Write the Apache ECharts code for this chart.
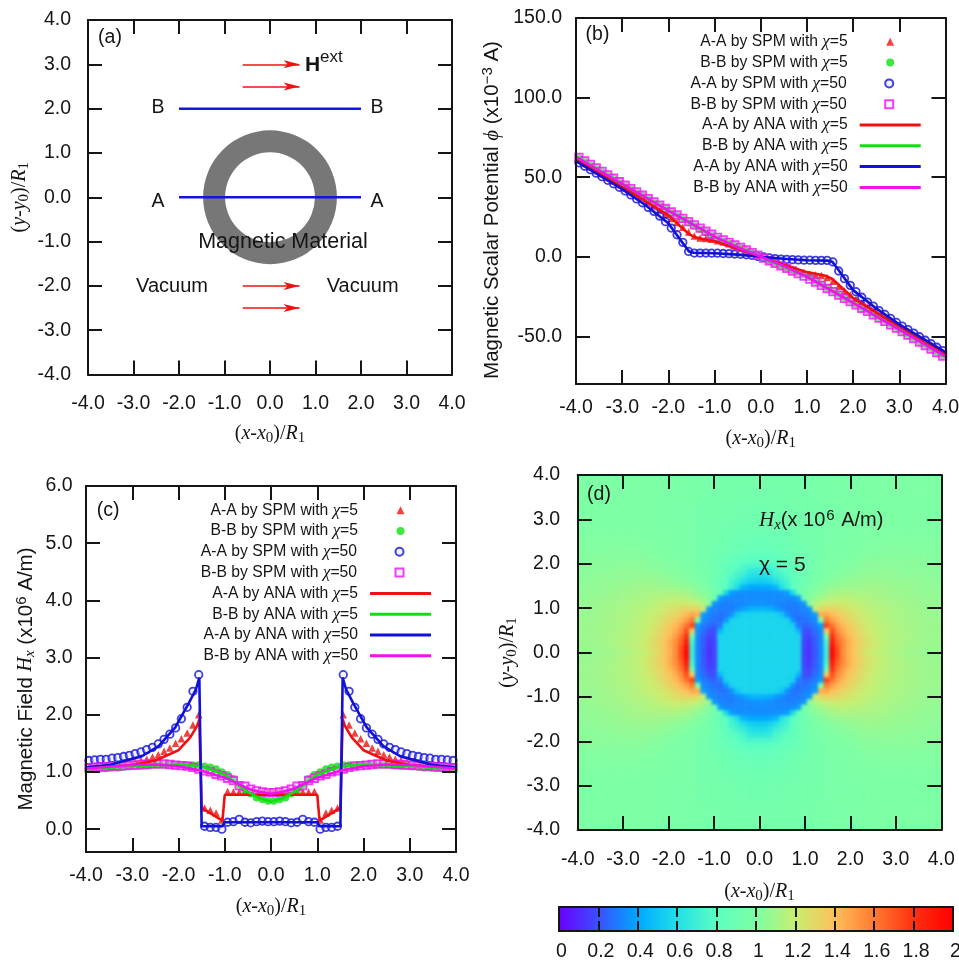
<!DOCTYPE html>
<html><head><meta charset="utf-8">
<style>html,body{margin:0;padding:0;background:#fff}#c{width:959px;height:961px;background:#fff;filter:blur(0.45px)}</style>
<script src="https://cdn.jsdelivr.net/npm/echarts@6/dist/echarts.min.js"></script>
</head><body><div id="c"></div>
<script>
// ---- sampling positions of the SPM markers ----
const spmX=[-3.9375,-3.8125,-3.6875,-3.5625,-3.4375,-3.3125,-3.1875,-3.0625,-2.9375,-2.8125,-2.6875,-2.5625,-2.4375,-2.3125,-2.1875,-2.0625,-1.9375,-1.8125,-1.6875,-1.5625,-1.4375,-1.3125,-1.1875,-1.0625,-0.9375,-0.8125,-0.6875,-0.5625,-0.4375,-0.3125,-0.1875,-0.0625,0.0625,0.1875,0.3125,0.4375,0.5625,0.6875,0.8125,0.9375,1.0625,1.1875,1.3125,1.4375,1.5625,1.6875,1.8125,1.9375,2.0625,2.1875,2.3125,2.4375,2.5625,2.6875,2.8125,2.9375,3.0625,3.1875,3.3125,3.4375,3.5625,3.6875,3.8125,3.9375];
// ---- panel (b): magnetic scalar potential ----
const phiSpmAA5=[60.6,58.4,56.2,54,51.9,49.6,47.4,45.2,43,40.8,38.6,36.1,33.7,31.4,29,26.6,24,21.5,18.5,15.5,13,11.8,11.5,11,10,9.2,8.2,7,5.4,3.9,2.4,0.8,-0.8,-2.4,-3.9,-5.4,-7,-8.2,-9.2,-10,-11,-11.5,-11.8,-13,-15.5,-18.5,-21.5,-24,-26.6,-29,-31.4,-33.7,-36.1,-38.6,-40.8,-43,-45.2,-47.4,-49.6,-51.9,-54,-56.2,-58.4,-60.6];
const phiSpmBB5=[62,59.8,57.6,55.4,53.3,51.1,49,46.8,44.5,42.4,40.4,38.3,36.2,34.1,32,30,27.9,25.8,23.7,21.6,19.5,17.4,15.4,13.3,11.4,9.9,8.5,6.9,5.4,3.9,2.3,0.8,-0.8,-2.3,-3.9,-5.4,-6.9,-8.5,-9.9,-11.4,-13.3,-15.4,-17.4,-19.5,-21.6,-23.7,-25.8,-27.9,-30,-32,-34.1,-36.2,-38.3,-40.4,-42.4,-44.5,-46.8,-49,-51.1,-53.3,-55.4,-57.6,-59.8,-62];
const phiSpmAA50=[59,56.9,54.7,52.5,50.3,48,45.8,43.6,41.3,38.8,36.3,33.9,31,28.5,25.5,22,18,13.8,9,3.3,2.3,2.3,2.3,2.2,2.2,2,1.9,1.7,1.5,1.2,0.8,0.2,-0.2,-0.8,-1.2,-1.5,-1.7,-1.9,-2,-2.2,-2.2,-2.3,-2.3,-2.3,-3.3,-9,-13.8,-18,-22,-25.5,-28.5,-31,-33.9,-36.3,-38.8,-41.3,-43.6,-45.8,-48,-50.3,-52.5,-54.7,-56.9,-59];
const phiSpmBB50=[62.4,60.2,58,55.8,53.6,51.4,49.3,47.1,44.9,42.8,40.7,38.6,36.5,34.4,32.4,30.3,28.2,26.2,24.1,22,20,18,16,14.1,12.2,10.6,9,7.4,5.8,4.2,2.6,0.9,-0.9,-2.6,-4.2,-5.8,-7.4,-9,-10.6,-12.2,-14.1,-16,-18,-20,-22,-24.1,-26.2,-28.2,-30.3,-32.4,-34.4,-36.5,-38.6,-40.7,-42.8,-44.9,-47.1,-49.3,-51.4,-53.6,-55.8,-58,-60.2,-62.4];
const phiAnaAA5X=[-4,-3,-2,-1.55,-1.4,-1,-0.5,0,0.5,1,1.4,1.55,2,3,4];
const phiAnaAA5=[61,44,26,14,12,9.7,5,0,-5,-9.7,-12,-14,-26,-44,-61];
const phiAnaBB5X=[-4,-3,-2,-1,0,1,2,3,4];
const phiAnaBB5=[63,45.6,29,12.3,0,-12.3,-29,-45.6,-63];
const phiAnaAA50X=[-4,-3,-2.5,-2,-1.75,-1.55,-1.45,-1,-0.5,0,0.5,1,1.45,1.55,1.75,2,2.5,3,4];
const phiAnaAA50=[60,42.5,32.5,21,11,3.2,2.5,2.2,1.3,0,-1.3,-2.2,-2.5,-3.2,-11,-21,-32.5,-42.5,-60];
const phiAnaBB50X=[-4,-3,-2,-1,-0.5,0,0.5,1,2,3,4];
const phiAnaBB50=[62.6,45.8,29,12.6,5.8,0,-5.8,-12.6,-29,-45.8,-62.6];
// ---- panel (c): magnetic field Hx ----
const hxSpmAA5=[1.07,1.08,1.09,1.1,1.1,1.12,1.13,1.15,1.17,1.2,1.22,1.26,1.3,1.36,1.42,1.5,1.58,1.68,1.82,2,0.37,0.33,0.28,0.16,0.66,0.65,0.65,0.66,0.65,0.64,0.65,0.65,0.65,0.65,0.64,0.65,0.66,0.65,0.65,0.66,0.16,0.28,0.33,0.37,2,1.82,1.68,1.58,1.5,1.42,1.36,1.3,1.26,1.22,1.2,1.17,1.15,1.13,1.12,1.1,1.1,1.09,1.08,1.07];
const hxSpmBB5=[1.05,1.05,1.06,1.06,1.07,1.07,1.08,1.09,1.1,1.1,1.11,1.12,1.12,1.12,1.12,1.12,1.12,1.12,1.12,1.12,1.1,1.08,1.05,1,0.95,0.88,0.77,0.68,0.62,0.55,0.52,0.49,0.49,0.52,0.55,0.62,0.68,0.77,0.88,0.95,1,1.05,1.08,1.1,1.12,1.12,1.12,1.12,1.12,1.12,1.12,1.12,1.12,1.11,1.1,1.1,1.09,1.08,1.07,1.07,1.06,1.06,1.05,1.05];
const hxSpmAA50=[1.2,1.21,1.22,1.22,1.24,1.25,1.27,1.29,1.32,1.35,1.39,1.43,1.49,1.57,1.66,1.77,1.93,2.13,2.41,2.7,0.05,0.03,0.03,0,0.12,0.13,0.17,0.12,0.11,0.13,0.14,0.13,0.13,0.14,0.13,0.11,0.12,0.17,0.13,0.12,0,0.03,0.03,0.05,2.7,2.41,2.13,1.93,1.77,1.66,1.57,1.49,1.43,1.39,1.35,1.32,1.29,1.27,1.25,1.24,1.22,1.22,1.21,1.2];
const hxSpmBB50=[1.07,1.08,1.09,1.09,1.1,1.1,1.11,1.12,1.12,1.13,1.13,1.14,1.14,1.14,1.13,1.12,1.11,1.1,1.08,1.05,1.02,1,0.96,0.93,0.89,0.85,0.76,0.75,0.7,0.67,0.65,0.64,0.64,0.65,0.67,0.7,0.75,0.76,0.85,0.89,0.93,0.96,1,1.02,1.05,1.08,1.1,1.11,1.12,1.13,1.14,1.14,1.14,1.13,1.13,1.12,1.12,1.11,1.1,1.1,1.09,1.09,1.08,1.07];
const hxAnaAA5X=[-4,-3,-2.5,-2,-1.75,-1.6,-1.55,-1.5,-1.05,-1,1,1.05,1.5,1.55,1.6,1.75,2,2.5,3,4];
const hxAnaAA5=[1.06,1.12,1.2,1.38,1.6,1.8,1.92,0.37,0.15,0.6,0.6,0.15,0.37,1.92,1.8,1.6,1.38,1.2,1.12,1.06];
const hxAnaBB5X=[-4,-3,-2,-1.5,-1,-0.75,-0.5,-0.25,0,0.25,0.5,0.75,1,1.5,2,3,4];
const hxAnaBB5=[1.05,1.1,1.13,1.1,0.95,0.8,0.65,0.54,0.48,0.54,0.65,0.8,0.95,1.1,1.13,1.1,1.05];
const hxAnaAA50X=[-4,-3.5,-2.8,-2.43,-2.07,-1.78,-1.62,-1.55,-1.5,-1.05,-1,1,1.05,1.5,1.55,1.62,1.78,2.07,2.43,2.8,3.5,4];
const hxAnaAA50=[1.08,1.12,1.27,1.45,1.78,2.2,2.45,2.65,0.05,0.05,0.12,0.12,0.05,0.05,2.65,2.45,2.2,1.78,1.45,1.27,1.12,1.08];
const hxAnaBB50X=[-4,-3,-2.5,-2,-1.5,-1,-0.5,-0.25,0,0.25,0.5,1,1.5,2,2.5,3,4];
const hxAnaBB50=[1.06,1.12,1.13,1.1,1.02,0.9,0.71,0.65,0.62,0.65,0.71,0.9,1.02,1.1,1.13,1.12,1.06];
// ---- panel (d): one quadrant of Hx, rows y=0..4, columns x=0..4, step 0.125 ----
const hxQuadrant=[
[.56,.56,.56,.56,.56,.56,.56,.56,.18,.12,.22,.32,.7,1.98,1.72,1.54,1.44,1.36,1.3,1.25,1.21,1.18,1.16,1.14,1.12,1.11,1.1,1.09,1.08,1.07,1.07,1.06,1.06],
[.56,.56,.56,.56,.56,.56,.56,.56,.18,.12,.22,.32,.7,1.95,1.71,1.55,1.45,1.38,1.32,1.27,1.23,1.2,1.17,1.16,1.14,1.13,1.11,1.1,1.1,1.09,1.08,1.08,1.07],
[.56,.56,.56,.56,.56,.56,.56,.56,.18,.14,.23,.32,.75,1.88,1.66,1.54,1.45,1.37,1.32,1.27,1.23,1.2,1.17,1.16,1.14,1.13,1.12,1.11,1.1,1.09,1.09,1.08,1.08],
[.56,.56,.56,.56,.56,.56,.56,.56,.2,.16,.24,.32,.9,1.8,1.62,1.5,1.42,1.35,1.3,1.26,1.22,1.19,1.17,1.15,1.14,1.13,1.12,1.11,1.1,1.09,1.09,1.08,1.08],
[.56,.56,.56,.56,.56,.56,.56,.45,.2,.2,.27,.33,1.35,1.72,1.55,1.46,1.38,1.33,1.29,1.24,1.21,1.18,1.17,1.15,1.14,1.13,1.12,1.11,1.1,1.09,1.09,1.08,1.08],
[.56,.56,.56,.56,.56,.56,.54,.3,.24,.26,.3,.38,1.75,1.62,1.5,1.42,1.36,1.31,1.27,1.23,1.2,1.18,1.16,1.15,1.13,1.12,1.11,1.11,1.1,1.09,1.09,1.08,1.08],
[.56,.56,.56,.56,.56,.54,.36,.26,.28,.3,.33,.95,1.6,1.5,1.43,1.37,1.32,1.28,1.24,1.21,1.19,1.17,1.15,1.14,1.13,1.12,1.11,1.1,1.1,1.09,1.09,1.08,1.08],
[.56,.56,.56,.55,.5,.35,.28,.28,.3,.32,.38,1.45,1.47,1.41,1.36,1.31,1.28,1.25,1.22,1.2,1.18,1.16,1.15,1.13,1.12,1.12,1.11,1.1,1.09,1.09,1.08,1.08,1.07],
[.45,.45,.42,.38,.34,.3,.3,.3,.32,.36,1.2,1.3,1.32,1.32,1.3,1.27,1.25,1.22,1.2,1.18,1.16,1.15,1.14,1.13,1.12,1.11,1.1,1.1,1.09,1.08,1.08,1.07,1.07],
[.35,.35,.34,.32,.32,.31,.31,.32,.36,1.05,1.14,1.19,1.21,1.22,1.22,1.22,1.2,1.19,1.17,1.16,1.14,1.13,1.13,1.12,1.11,1.1,1.1,1.09,1.08,1.08,1.07,1.07,1.07],
[.34,.34,.33,.33,.33,.33,.33,.38,.95,1.02,1.07,1.1,1.13,1.15,1.17,1.17,1.16,1.16,1.15,1.14,1.13,1.12,1.11,1.11,1.1,1.09,1.09,1.08,1.08,1.07,1.07,1.06,1.06],
[.34,.34,.34,.34,.35,.38,.58,.85,.94,1,1.03,1.05,1.08,1.1,1.11,1.13,1.12,1.12,1.12,1.12,1.12,1.11,1.1,1.1,1.09,1.08,1.08,1.07,1.07,1.06,1.06,1.06,1.05],
[.4,.4,.42,.45,.6,.7,.8,.86,.92,.97,1,1.02,1.04,1.06,1.07,1.08,1.09,1.09,1.09,1.09,1.1,1.09,1.09,1.08,1.08,1.07,1.07,1.07,1.06,1.06,1.05,1.05,1.05],
[.52,.53,.55,.6,.68,.72,.81,.86,.91,.95,.98,1,1.01,1.03,1.04,1.05,1.06,1.07,1.07,1.08,1.08,1.08,1.08,1.07,1.07,1.07,1.06,1.06,1.06,1.05,1.05,1.05,1.04],
[.58,.59,.62,.68,.72,.77,.82,.87,.91,.94,.97,.99,1,1.01,1.02,1.03,1.04,1.05,1.05,1.06,1.06,1.06,1.06,1.06,1.06,1.05,1.05,1.05,1.05,1.05,1.04,1.04,1.04],
[.65,.65,.67,.74,.77,.8,.84,.88,.91,.94,.96,.98,.99,1,1.01,1.02,1.02,1.03,1.04,1.04,1.05,1.05,1.05,1.05,1.05,1.05,1.04,1.04,1.04,1.04,1.04,1.04,1.03],
[.74,.74,.75,.77,.8,.83,.85,.88,.91,.93,.95,.97,.98,.99,1,1.01,1.01,1.02,1.03,1.03,1.04,1.04,1.04,1.04,1.04,1.04,1.04,1.04,1.04,1.03,1.03,1.03,1.03],
[.79,.79,.8,.81,.83,.85,.87,.89,.91,.93,.95,.96,.97,.98,.99,1,1,1.01,1.02,1.02,1.03,1.03,1.03,1.03,1.03,1.03,1.03,1.03,1.03,1.03,1.03,1.02,1.02],
[.83,.83,.83,.84,.86,.87,.89,.9,.92,.93,.95,.96,.97,.98,.99,.99,1,1,1.01,1.01,1.02,1.02,1.02,1.02,1.02,1.02,1.02,1.02,1.02,1.02,1.02,1.02,1.02],
[.85,.85,.86,.87,.88,.89,.9,.91,.93,.94,.95,.96,.97,.98,.98,.99,.99,1,1,1.01,1.01,1.01,1.02,1.02,1.02,1.02,1.02,1.02,1.02,1.01,1.01,1.01,1.01],
[.87,.87,.88,.88,.89,.9,.91,.92,.93,.94,.95,.96,.97,.97,.98,.99,.99,1,1,1,1.01,1.01,1.01,1.01,1.01,1.01,1.01,1.01,1.01,1.01,1.01,1.01,1.01],
[.88,.88,.89,.89,.9,.91,.92,.93,.94,.94,.95,.96,.97,.97,.98,.98,.99,.99,1,1,1,1,1.01,1.01,1.01,1.01,1.01,1.01,1.01,1.01,1.01,1.01,1.01],
[.9,.9,.9,.9,.91,.92,.92,.93,.94,.95,.95,.96,.97,.97,.98,.98,.99,.99,.99,1,1,1,1,1,1,1,1,1,1,1,1,1,1],
[.91,.91,.91,.91,.92,.92,.93,.94,.94,.95,.95,.96,.97,.97,.98,.98,.98,.99,.99,1,1,1,1,1,1,1,1,1,1,1,1,1,1],
[.92,.92,.92,.92,.93,.93,.94,.94,.95,.95,.96,.96,.97,.97,.98,.98,.98,.99,.99,.99,1,1,1,1,1,1,1,1,1,1,1,1,1],
[.92,.92,.93,.93,.93,.94,.94,.95,.95,.95,.96,.96,.97,.97,.97,.98,.98,.98,.99,.99,.99,1,1,1,1,1,1,1,1,1,1,1,1],
[.93,.93,.93,.93,.94,.94,.94,.95,.95,.95,.96,.96,.97,.97,.97,.98,.98,.98,.99,.99,.99,1,1,1,1,1,1,1,1,1,1,1,1],
[.93,.93,.93,.94,.94,.94,.95,.95,.95,.96,.96,.96,.97,.97,.97,.98,.98,.98,.99,.99,.99,1,1,1,1,1,1,1,1,1,1,1,1],
[.94,.94,.94,.94,.94,.95,.95,.95,.96,.96,.96,.97,.97,.97,.98,.98,.98,.99,.99,.99,.99,1,1,1,1,1,1,1,1,1,1,1,1],
[.94,.94,.94,.94,.95,.95,.95,.96,.96,.96,.96,.97,.97,.97,.98,.98,.98,.98,.99,.99,.99,1,1,1,1,1,1,1,1,1,1,1,1],
[.95,.95,.95,.95,.95,.95,.96,.96,.96,.96,.97,.97,.97,.97,.98,.98,.98,.98,.99,.99,.99,1,1,1,1,1,1,1,1,1,1,1,1],
[.95,.95,.95,.95,.95,.95,.96,.96,.96,.96,.97,.97,.97,.97,.98,.98,.98,.98,.99,.99,.99,1,1,1,1,1,1,1,1,1,1,1,1],
[.95,.95,.95,.95,.95,.95,.96,.96,.96,.96,.97,.97,.97,.97,.98,.98,.98,.98,.99,.99,.99,1,1,1,1,1,1,1,1,1,1,1,1]];
const palette=['#6a00ff','#3a50ff','#00a8ff','#20e0e8','#5cffc0','#7dffa4','#c8ee70','#ffc05a','#ff7a30','#ff3010','#ff0000'];
// ---- panel (a): schematic ----
const ringRadii=[1.0,1.49];
const cutLinesY=[2,0];
const cutLineX=[-2,2];
const arrowYs=[3,2.5,-2,-2.5];
const arrowX=[-0.6,0.65];
const positionTicks=[-4,-3,-2,-1,0,1,2,3,4];
const phiTicks=[-50,0,50,100,150];
const hxTicks=[0,1,2,3,4,5,6];
const colorTicks=[0,0.2,0.4,0.6,0.8,1,1.2,1.4,1.6,1.8,2];

const INK='#151515', SANS='"Liberation Sans",Arial,sans-serif', SERIF='"Liberation Serif",serif';
const zip=(xs,ys)=>xs.map((x,i)=>[x,ys[i]]);
const richName={
  n:{fontFamily:SERIF,fontSize:20,color:INK},
  i:{fontFamily:SERIF,fontStyle:'italic',fontSize:20,color:INK},
  s:{fontFamily:SERIF,fontSize:15,color:INK,padding:[9,0,0,0]},
  si:{fontFamily:SERIF,fontStyle:'italic',fontSize:15,color:INK,padding:[9,0,0,0]},
  sup:{fontFamily:SANS,fontSize:15,color:INK,padding:[0,0,9,0]},
  phi:{fontFamily:SERIF,fontStyle:'italic',fontSize:21,color:INK}
};
const xPosName='{n|(}{i|x}{n|-}{i|x}{s|0}{n|)/}{i|R}{s|1}';
const yPosName='{n|(}{i|y}{n|-}{i|y}{s|0}{n|)/}{i|R}{s|1}';
const grids=[],xAxes=[],yAxes=[];
function axisBase(extra){
  return Object.assign({type:'value',z:5,
    axisLine:{show:true,onZero:false,lineStyle:{color:INK,width:2}},
    axisTick:{show:true,inside:true,length:14,lineStyle:{color:INK,width:2}},
    splitLine:{show:false},
    axisLabel:{show:false}},extra);
}
function panel(rect,x,y){
  const g=grids.length; grids.push(Object.assign({containLabel:false,outerBoundsMode:'none'},rect));
  const label=(margin,fmt,vals)=>({show:true,margin,color:INK,fontFamily:SANS,fontSize:19.5,formatter:fmt,customValues:vals});
  const tf=v=>v.toFixed(1);
  const xi=xAxes.length, yi=yAxes.length;
  xAxes.push(axisBase({gridIndex:g,position:'bottom',min:-4,max:4,axisTick:{show:true,inside:true,length:14,customValues:positionTicks,lineStyle:{color:INK,width:2}},axisLabel:label(x.margin,tf,positionTicks),
    name:xPosName,nameLocation:'middle',nameGap:x.gap,nameTextStyle:{rich:richName}}));
  xAxes.push(axisBase({gridIndex:g,position:'top',min:-4,max:4,axisTick:{show:true,inside:true,length:14,customValues:positionTicks,lineStyle:{color:INK,width:2}}}));
  yAxes.push(axisBase({gridIndex:g,position:'left',min:y.min,max:y.max,axisTick:{show:true,inside:true,length:14,customValues:y.ticks,lineStyle:{color:INK,width:2}},axisLabel:label(y.margin,tf,y.ticks),
    name:y.name,nameLocation:'middle',nameRotate:90,nameGap:y.gap,nameTextStyle:Object.assign({rich:richName,fontFamily:SANS,fontSize:y.fs||20,color:INK},y.pad?{padding:y.pad}:{})}));
  yAxes.push(axisBase({gridIndex:g,position:'right',min:y.min,max:y.max,axisTick:{show:true,inside:true,length:14,customValues:y.ticks,lineStyle:{color:INK,width:2}}}));
  return {x:xi,y:yi};
}
const A=panel({left:88,top:20,width:364,height:354.5},{gap:47,margin:19},{min:-4,max:4,ticks:positionTicks,name:yPosName,gap:56,margin:17});
const B=panel({left:576,top:18,width:369.5,height:366},{gap:43,margin:14},{min:-80,max:150,ticks:phiTicks,gap:72,margin:14,fs:20.5,pad:[0,18,0,0],
  name:'Magnetic Scalar Potential {phi|ϕ} (x10{sup|−3} A)'});
const C=panel({left:86,top:486,width:370,height:366},{gap:43,margin:13.5},{min:-0.4,max:6,ticks:hxTicks,gap:48,margin:13.5,fs:20.5,pad:[0,20,0,0],
  name:'Magnetic Field {i|H}{si|x} (x10{sup|6} A/m)'});
const D=panel({left:577.7,top:475,width:363.6,height:355},{gap:50,margin:19.5},{min:-4,max:4,ticks:positionTicks,name:yPosName,gap:58,margin:17.5});
// hidden band axes for the field map: panel (d) rectangle plus one spare cell on every side
const heatCats=[];
for(let c=-33;c<=33;c++)heatCats.push(c);
const CW=363.6/65,CH=355/65;
grids.push({outerBoundsMode:'none',left:577.7-CW,top:475-CH,width:363.6+2*CW,height:355+2*CH});
const heatX=xAxes.length,heatY=yAxes.length;
xAxes.push({type:'category',gridIndex:grids.length-1,data:heatCats,show:false,boundaryGap:true});
yAxes.push({type:'category',gridIndex:grids.length-1,data:heatCats,show:false,boundaryGap:true});
const heatData=[];
heatCats.forEach((cy,iy)=>heatCats.forEach((cx,ix)=>heatData.push([ix,iy,hxQuadrant[Math.min(32,Math.abs(cy))][Math.min(32,Math.abs(cx))]])));
// colour bar
const cbStops=palette.map((c,i)=>({offset:i/(palette.length-1),color:c}));
grids.push({outerBoundsMode:'none',left:559,top:907,width:394,height:24,show:true,borderWidth:0,backgroundColor:new echarts.graphic.LinearGradient(0,0,1,0,cbStops)});
const cbG=grids.length-1;
const cbTick={show:true,inside:true,length:10,lineStyle:{color:INK,width:2},customValues:colorTicks};
xAxes.push(axisBase({gridIndex:cbG,position:'bottom',min:0,max:2,axisTick:cbTick,
  axisLabel:{show:true,margin:11,color:INK,fontFamily:SANS,fontSize:19.5,padding:[0,0,0,5],customValues:colorTicks,formatter:v=>String(v)}}));
xAxes.push(axisBase({gridIndex:cbG,position:'top',min:0,max:2,axisTick:cbTick}));
yAxes.push(axisBase({gridIndex:cbG,position:'left',min:0,max:1,axisTick:{show:false}}));
yAxes.push(axisBase({gridIndex:cbG,position:'right',min:0,max:1,axisTick:{show:false}}));

const series=[];
const RED='#f01010',GREEN='#10e010',BLUE='#1010d8',MAG='#f010f0';
const names={s5a:'A-A by SPM with {chi|χ}=5',s5b:'B-B by SPM with {chi|χ}=5',s50a:'A-A by SPM with {chi|χ}=50',s50b:'B-B by SPM with {chi|χ}=50',
             a5a:'A-A by ANA with {chi|χ}=5',a5b:'B-B by ANA with {chi|χ}=5',a50a:'A-A by ANA with {chi|χ}=50',a50b:'B-B by ANA with {chi|χ}=50'};
function marks(P,ys,name,sym,col,hollow){
  series.push({type:'scatter',name,xAxisIndex:P.x,yAxisIndex:P.y,symbol:sym,symbolSize:7.5,z:2,
    itemStyle:hollow?{color:'rgba(225,225,255,0.45)',borderColor:col,borderWidth:1.8}:{color:col},
    data:zip(spmX,ys)});
}
function curve(P,xs,ys,name,col){
  series.push({type:'line',name,xAxisIndex:P.x,yAxisIndex:P.y,symbol:'none',showSymbol:false,z:3,
    lineStyle:{color:col,width:2.6},itemStyle:{color:col},data:zip(xs,ys)});
}
// (a)
series.push({type:'custom',xAxisIndex:A.x,yAxisIndex:A.y,z:1,silent:true,
  data:[[0,0,ringRadii[0],ringRadii[1]]],
  renderItem:(p,api)=>{const c=api.coord([api.value(0),api.value(1)]);
    const s=api.size([1,1]);const u=(s[0]+s[1])/2;
    return {type:'ring',shape:{cx:c[0],cy:c[1],r:api.value(3)*u,r0:api.value(2)*u},style:{fill:'#777777'}};}});
cutLinesY.forEach(yv=>series.push({type:'line',xAxisIndex:A.x,yAxisIndex:A.y,symbol:'none',z:3,lineStyle:{color:'#1414e0',width:2.5},data:cutLineX.map(x=>[x,yv])}));
series.push({type:'line',xAxisIndex:A.x,yAxisIndex:A.y,symbol:'none',data:[],z:4,
  markLine:{silent:true,symbol:['none','path://M0 0L0 0M32 32L32 32M12 32L16 16L20 32L16 28Z'],symbolSize:32,animation:false,label:{show:false},
    lineStyle:{color:'#f01010',width:1.5,type:'solid'},
    data:arrowYs.map(y=>[{coord:[arrowX[0],y]},{coord:[arrowX[1],y]}])}});
// (b)
marks(B,phiSpmAA5,names.s5a,'triangle',RED);
marks(B,phiSpmBB5,names.s5b,'circle',GREEN);
marks(B,phiSpmAA50,names.s50a,'circle',BLUE,true);
marks(B,phiSpmBB50,names.s50b,'rect',MAG,true);
curve(B,phiAnaAA5X,phiAnaAA5,names.a5a,RED);
curve(B,phiAnaBB5X,phiAnaBB5,names.a5b,GREEN);
curve(B,phiAnaAA50X,phiAnaAA50,names.a50a,BLUE);
curve(B,phiAnaBB50X,phiAnaBB50,names.a50b,MAG);
// (c)
marks(C,hxSpmAA5,names.s5a,'triangle',RED);
marks(C,hxSpmBB5,names.s5b,'circle',GREEN);
marks(C,hxSpmAA50,names.s50a,'circle',BLUE,true);
marks(C,hxSpmBB50,names.s50b,'rect',MAG,true);
curve(C,hxAnaAA5X,hxAnaAA5,names.a5a,RED);
curve(C,hxAnaBB5X,hxAnaBB5,names.a5b,GREEN);
curve(C,hxAnaAA50X,hxAnaAA50,names.a50a,BLUE);
curve(C,hxAnaBB50X,hxAnaBB50,names.a50b,MAG);
// (d)
const heatIndex=series.length;
series.push({type:'heatmap',xAxisIndex:heatX,yAxisIndex:heatY,data:heatData,zlevel:-1,z:1,progressive:0,silent:true});

// one legend per row so the labels stay right-aligned against the key
const order=[names.s5a,names.s5b,names.s50a,names.s50b,names.a5a,names.a5b,names.a50a,names.a50b];
const legends=[];
const KEY_W=61,MARK_W=8;
function keyRows(right,firstY,step){
  order.forEach((nm,i)=>{
    const isMark=i<4;
    const pad=isMark?7+(KEY_W-MARK_W)/2:7;
    const l={data:[nm],orient:'horizontal',align:'right',right:isMark?right+(KEY_W-MARK_W)/2:right,top:firstY+step*i-8,padding:0,
      selectedMode:false,itemWidth:isMark?MARK_W:KEY_W,itemHeight:isMark?MARK_W:3,formatter:n=>n,
      textStyle:{fontFamily:SANS,fontSize:15.7,color:INK,padding:[0,pad,0,0],rich:{chi:{fontFamily:SERIF,fontStyle:'italic',fontSize:17,color:INK}}}};
    if(!isMark)l.icon='rect';
    legends.push(l);
  });
}
keyRows(38.3,41.3,20.8);
keyRows(528,509.7,20.8);

const T=(x,y,text,o)=>({type:'text',x,y,z:100,style:Object.assign({text,fill:INK,font:'19.5px '+SANS,align:'center',verticalAlign:'middle'},o||{})});
const graphic=[
  T(110,38,'(a)'),T(597.5,35,'(b)'),T(108,510.7,'(c)'),T(599,494.3,'(d)'),
  T(305,65.7,'H',{align:'left',font:'bold 21px '+SANS}),T(320,57,'ext',{align:'left',font:'17px '+SANS}),
  T(158,108,'B'),T(377,108,'B'),T(158,201.7,'A'),T(377,201.7,'A'),
  T(283,241.7,'Magnetic Material',{font:'21.5px '+SANS}),
  T(172,286.7,'Vacuum',{font:'20px '+SANS}),T(362.7,286.7,'Vacuum',{font:'20px '+SANS}),
  T(759,520.7,'{i|H}{s|x}(x 10{u|6} A/m)',{align:'left',font:'20px '+SANS,
    rich:{i:{fontFamily:SERIF,fontStyle:'italic',fontSize:21,fill:INK},s:{fontFamily:SERIF,fontStyle:'italic',fontSize:15,fill:INK,padding:[9,0,0,0]},u:{fontSize:15,fill:INK,padding:[0,1,9,1]}}}),
  T(759,565.7,'χ = 5',{align:'left',font:'21px '+SANS})
];
const chart=echarts.init(document.getElementById('c'),null,{renderer:'canvas'});
chart.setOption({animation:false,backgroundColor:'#fff',grid:grids,xAxis:xAxes,yAxis:yAxes,series,legend:legends,graphic,
  visualMap:{show:false,type:'continuous',min:0,max:2,seriesIndex:heatIndex,dimension:2,inRange:{color:palette}}});
// the field map sits on its own canvas layer: soften it like the resampled original, trimmed to the plot frame
const heatLayer=chart.getZr().painter.getLayer(-1);
if(heatLayer&&heatLayer.dom){
  heatLayer.dom.style.filter='blur(1.6px)';
  heatLayer.dom.style.clipPath='inset(475px 17.7px 131px 577.7px)';
}
</script></body></html>
